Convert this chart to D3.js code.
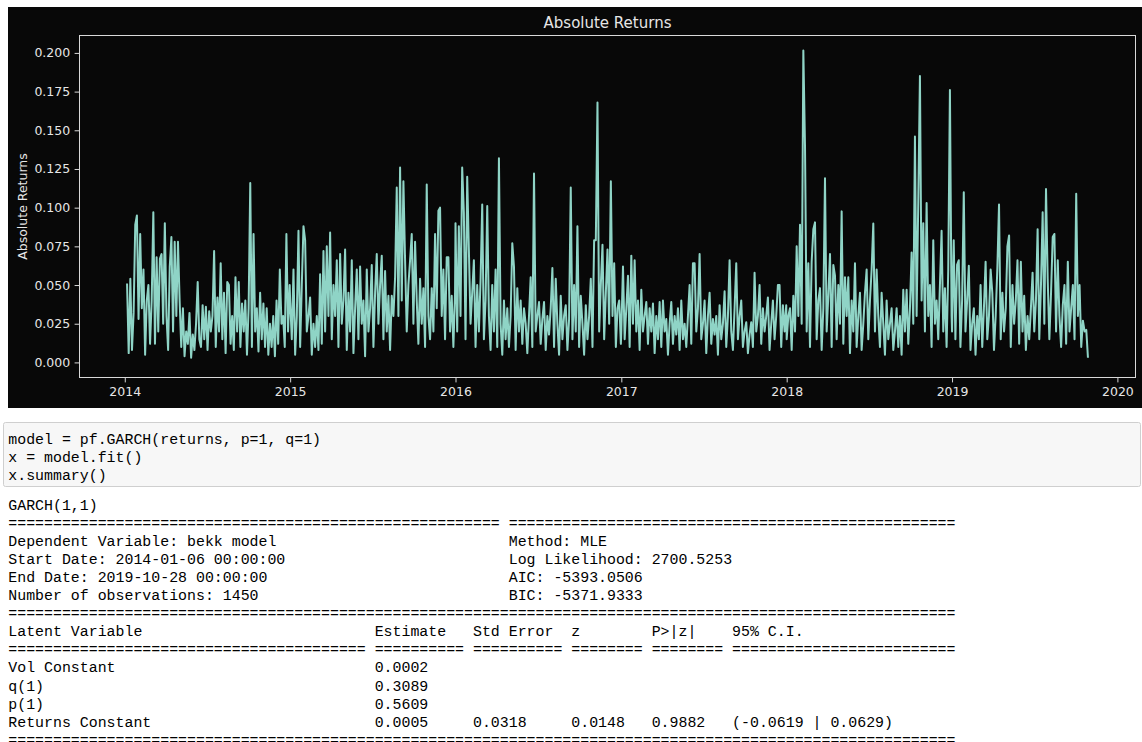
<!DOCTYPE html>
<html><head><meta charset="utf-8">
<script src="https://cdn.jsdelivr.net/npm/d3@7"></script>
<style>html,body{margin:0;padding:0;background:#fff;overflow:hidden}</style>
</head><body>
<script>
// ---- series values (absolute returns), one array per year ----
const vals2014 = [.051,.006,.054,.008,.032,.089,.095,.028,.083,.035,.060,.005,.040,.050,.012,.040,.097,.012,.068,.020,
.067,.070,.025,.090,.030,.008,.062,.081,.020,.078,.030,.078,.040,.010,.035,.004,.020,.012,.032,.003,
.018,.008,.025,.052,.015,.010,.037,.015,.036,.008,.033,.020,.030,.072,.010,.042,.020,.064,.015,.045,
.006,.052,.050,.012,.030,.008,.055,.020,.052,.010,.038,.020,.040,.005,.035,.116,.010,.083,.020,.035,
.007,.045,.015,.038,.010,.035,.005,.025,.010,.030,.004,.040,.012,.060,.025,.030,.010,.083,.020,.050];
const vals2015 = [.040,.015,.060,.005,.030,.085,.010,.050,.088,.079,.020,.030,.042,.005,.025,.010,.030,.008,.057,.012,
.072,.020,.075,.030,.084,.015,.050,.030,.066,.010,.070,.025,.040,.073,.008,.045,.020,.066,.006,.035,
.060,.015,.062,.025,.040,.004,.060,.020,.035,.063,.010,.045,.070,.025,.050,.069,.015,.059,.020,.043,
.008,.043,.030,.055,.113,.030,.126,.040,.117,.066,.020,.050,.066,.083,.025,.078,.040,.012,.054,.025,
.048,.010,.115,.030,.015,.048,.020,.083,.035,.098,.100,.030,.060,.015,.068,.068,.020,.043,.010,.045];
const vals2016 = [.090,.020,.088,.030,.126,.097,.015,.120,.073,.025,.045,.066,.010,.050,.020,.053,.102,.015,.040,.101,
.030,.008,.050,.020,.060,.010,.132,.025,.005,.040,.015,.035,.010,.030,.077,.062,.008,.048,.020,.040,
.012,.035,.025,.006,.030,.055,.010,.122,.020,.030,.039,.012,.028,.039,.008,.030,.018,.035,.061,.010,
.054,.025,.005,.043,.015,.030,.037,.008,.028,.113,.015,.050,.020,.088,.010,.043,.025,.005,.037,.015,
.030,.054,.010,.079,.079,.168,.020,.050,.076,.015,.045,.073,.025,.117,.030,.064,.010,.035,.040,.012];
const vals2017 = [.020,.062,.015,.035,.056,.010,.069,.025,.066,.020,.040,.008,.047,.020,.030,.039,.012,.035,.020,.038,
.006,.030,.015,.039,.010,.040,.020,.028,.005,.025,.039,.012,.030,.018,.035,.008,.040,.015,.025,.010,
.030,.050,.012,.064,.064,.020,.035,.070,.015,.025,.040,.006,.030,.045,.012,.028,.018,.030,.005,.037,
.015,.025,.046,.010,.030,.066,.020,.008,.035,.064,.015,.030,.040,.010,.020,.026,.006,.018,.026,.010,
.058,.020,.030,.050,.012,.035,.020,.030,.042,.008,.025,.040,.015,.030,.050,.050,.010,.037,.020,.037];
const vals2018 = [.015,.030,.035,.008,.043,.020,.075,.030,.089,.025,.2015,.140,.020,.064,.010,.065,.086,.0905,.015,.040,
.048,.008,.035,.119,.020,.043,.070,.010,.063,.056,.015,.050,.025,.0976,.012,.055,.030,.055,.006,.040,
.020,.064,.010,.030,.045,.008,.025,.045,.060,.015,.040,.060,.0897,.020,.060,.030,.010,.045,.025,.005,
.040,.015,.025,.035,.008,.020,.035,.010,.030,.005,.047,.020,.047,.012,.035,.071,.025,.146,.030,.104,
.185,.040,.090,.020,.103,.030,.050,.010,.079,.025,.040,.015,.050,.085,.020,.048,.010,.060,.176,.030];
const vals2019 = [.020,.079,.015,.063,.066,.010,.040,.110,.020,.040,.0625,.008,.025,.035,.005,.030,.015,.050,.010,.035,
.065,.015,.030,.060,.045,.008,.030,.061,.102,.015,.045,.020,.035,.075,.082,.010,.050,.025,.040,.066,
.012,.065,.020,.043,.008,.030,.015,.035,.058,.020,.040,.086,.015,.050,.097,.025,.112,.054,.015,.045,
.081,.083,.020,.066,.030,.010,.037,.050,.012,.065,.020,.035,.050,.015,.109,.030,.050,.010,.027,.020,
.021,.003];
const yearValues = [vals2014, vals2015, vals2016, vals2017, vals2018, vals2019];
const segStarts = ["2014-01-06","2015-01-01","2016-01-01","2017-01-01","2018-01-01","2019-01-01"];
const segEnds   = ["2014-12-31","2015-12-31","2016-12-31","2017-12-31","2018-12-31","2019-10-28"];

// ---- tick labels ----
const yTicks = [0, 0.025, 0.05, 0.075, 0.1, 0.125, 0.15, 0.175, 0.2];
const xTickYears = [2014, 2015, 2016, 2017, 2018, 2019, 2020];
const chartTitle = "Absolute Returns";
const yLabel = "Absolute Returns";

// ---- notebook text ----
const codeLines = ["model = pf.GARCH(returns, p=1, q=1)", "x = model.fit()", "x.summary()"];
const modelName = "GARCH(1,1)";
const modelLeft = ["Dependent Variable: bekk model", "Start Date: 2014-01-06 00:00:00", "End Date: 2019-10-28 00:00:00", "Number of observations: 1450"];
const modelRight = ["Method: MLE", "Log Likelihood: 2700.5253", "AIC: -5393.0506", "BIC: -5371.9333"];
const latentHeaders = ["Latent Variable", "Estimate", "Std Error", "z", "P>|z|", "95% C.I."];
const latentRows = [
  ["Vol Constant", "0.0002", "", "", "", ""],
  ["q(1)", "0.3089", "", "", "", ""],
  ["p(1)", "0.5609", "", "", "", ""],
  ["Returns Constant", "0.0005", "0.0318", "0.0148", "0.9882", "(-0.0619 | 0.0629)"]
];

// ---------------------------------------------------------------
const W = 1142, H = 742;
const svg = d3.select("body").append("svg").attr("width", W).attr("height", H)
  .style("display", "block");
svg.append("rect").attr("width", W).attr("height", H).attr("fill", "#fff");

// build dated points
const parse = d3.utcParse("%Y-%m-%d");
const points = [];
yearValues.forEach((arr, s) => {
  const t0 = parse(segStarts[s]).getTime(), t1 = parse(segEnds[s]).getTime();
  arr.forEach((v, i) => {
    points.push({date: new Date(t0 + (t1 - t0) * i / (arr.length - 1)), value: v});
  });
});

// figure background
svg.append("rect").attr("x", 8).attr("y", 7).attr("width", W - 8).attr("height", 401).attr("fill", "#080808");

const plot = {left: 79, top: 35, right: 1136, bottom: 378};
const tExt = d3.extent(points, d => d.date);
const tPad = (tExt[1] - tExt[0]) * 0.05;
const x = d3.scaleUtc().domain([new Date(+tExt[0] - tPad), new Date(+tExt[1] + tPad)]).range([plot.left, plot.right]);
const yMax = d3.max(points, d => d.value);
const yPad = yMax * 0.05;
const y = d3.scaleLinear().domain([0 - yPad, yMax + yPad]).range([plot.bottom, plot.top]);

const tickFont = "'DejaVu Sans', sans-serif";
const gY = svg.append("g").attr("transform", `translate(${plot.left},0)`)
  .call(d3.axisLeft(y).tickValues(yTicks).tickFormat(d3.format(".3f")).tickSize(4.4).tickPadding(4.4));
const gX = svg.append("g").attr("transform", `translate(0,${plot.bottom})`)
  .call(d3.axisBottom(x).tickValues(xTickYears.map(yr => new Date(Date.UTC(yr, 0, 1)))).tickFormat(d3.utcFormat("%Y")).tickSize(4.4).tickPadding(4.4));
[gY, gX].forEach(g => {
  g.select(".domain").remove();
  g.selectAll(".tick line").attr("stroke", "#d8d8d8").attr("stroke-width", 1);
  g.selectAll(".tick text").attr("fill", "#e6e6e6").style("font-family", tickFont).style("font-size", "12.5px");
});

// line
svg.append("path").datum(points)
  .attr("fill", "none").attr("stroke", "#8fd4c6").attr("stroke-width", 2.0)
  .attr("stroke-linejoin", "round")
  .attr("d", d3.line().x(d => x(d.date)).y(d => y(d.value)));

// frame
svg.append("rect").attr("x", plot.left + 0.5).attr("y", plot.top + 0.5)
  .attr("width", plot.right - plot.left - 1).attr("height", plot.bottom - plot.top - 1)
  .attr("fill", "none").attr("stroke", "#d8d8d8").attr("stroke-width", 1);

// title and y label
svg.append("text").attr("x", (plot.left + plot.right) / 2).attr("y", 28).attr("text-anchor", "middle")
  .attr("fill", "#e6e6e6").style("font-family", tickFont).style("font-size", "15px").text(chartTitle);
svg.append("text").attr("transform", `translate(27,${(plot.top + plot.bottom) / 2}) rotate(-90)`)
  .attr("text-anchor", "middle").attr("fill", "#e6e6e6").style("font-family", tickFont).style("font-size", "12.5px").text(yLabel);

// ---- code cell ----
const mono = "'Liberation Mono', monospace";
const pitch = 18.1;
svg.append("rect").attr("x", 3.5).attr("y", 422.5).attr("width", 1137).attr("height", 64).attr("rx", 2)
  .attr("fill", "#f7f7f7").attr("stroke", "#cfcfcf").attr("stroke-width", 1);
svg.append("g").selectAll("text").data(codeLines).join("text")
  .attr("x", 8.3).attr("y", (d, i) => 444 + i * pitch)
  .attr("fill", "#000").style("font-family", mono).style("font-size", "14.9px").style("white-space", "pre")
  .text(d => d);

// ---- summary output ----
const pad = (s, w) => String(s).slice(0, w).padEnd(w);
const headW = [55, 50];
const colW = [40, 10, 10, 8, 8, 25];
const fullW = colW.reduce((a, b) => a + b, 0) + colW.length - 1;
const outLines = [];
outLines.push(pad(modelName, headW[0]) + " " + pad("", headW[1]));
outLines.push(headW.map(w => "=".repeat(w)).join(" "));
modelLeft.forEach((l, i) => outLines.push(pad(l, headW[0]) + " " + pad(modelRight[i], headW[1])));
outLines.push("=".repeat(fullW));
outLines.push(latentHeaders.map((h, i) => pad(h, colW[i])).join(" "));
outLines.push(colW.map(w => "=".repeat(w)).join(" "));
latentRows.forEach(r => outLines.push(r.map((c, i) => pad(c, colW[i])).join(" ")));
outLines.push("=".repeat(fullW));

svg.append("g").selectAll("text").data(outLines).join("text")
  .attr("x", 8.3).attr("y", (d, i) => 509.5 + i * pitch)
  .attr("fill", "#000").style("font-family", mono).style("font-size", "14.9px").style("white-space", "pre")
  .text(d => d);
</script>
</body></html>
